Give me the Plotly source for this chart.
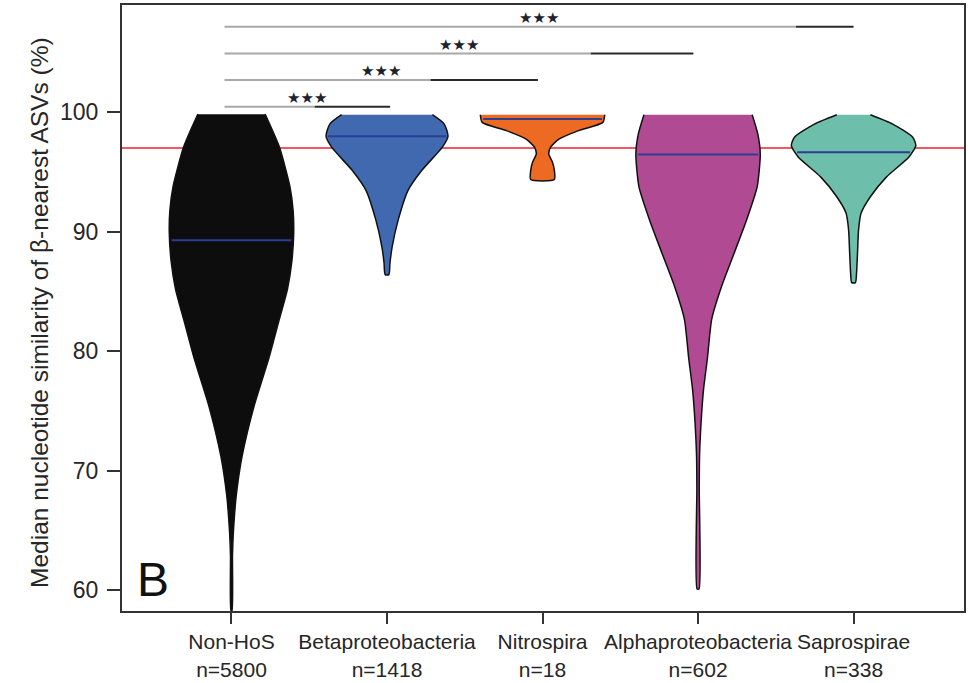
import numpy as np
import plotly.graph_objects as go

groups = ["Non-HoS", "Betaproteobacteria", "Nitrospira", "Alphaproteobacteria", "Saprospirae"]
counts = [5800, 1418, 18, 602, 338]
medians = [89.27, 97.98, 99.42, 96.46, 96.65]
fills = ["#0d0d0d", "#4169b0", "#ec6a22", "#b04a92", "#6dbfab"]

# violin outlines: similarity level -> relative density
nonhos_y = [99.83, 97.07, 93.75, 91.8, 89.9, 87.5, 85.2, 82.5, 79.4, 75.35, 71.2, 67.9, 64.8, 62.9, 58.3]
nonhos_d = [0.54, 0.77, 0.94, 0.99, 1.0, 0.97, 0.90, 0.76, 0.60, 0.36, 0.17, 0.076, 0.03, 0.016, 0.008]
beta_y = [99.78, 99.0, 97.98, 97.07, 95.13, 93.47, 90.98, 88.77, 87.4, 86.4]
beta_d = [0.73, 0.92, 0.98, 0.89, 0.56, 0.34, 0.18, 0.084, 0.048, 0.03]
nitro_y = [99.78, 99.14, 98.45, 97.76, 97.07, 96.5, 95.8, 95.13, 94.36]
nitro_d = [1.0, 0.97, 0.58, 0.27, 0.13, 0.10, 0.16, 0.19, 0.19]
alpha_y = [99.78, 98.17, 96.46, 93.75, 90.98, 88.2, 85.45, 82.68, 79.4, 76.74, 73.97, 71.2, 68.5, 60.1]
alpha_d = [0.87, 0.96, 1.0, 0.95, 0.78, 0.58, 0.38, 0.22, 0.15, 0.087, 0.048, 0.024, 0.019, 0.016]
sapro_y = [99.78, 99.0, 97.9, 97.2, 96.24, 94.58, 92.92, 91.54, 90.15, 88.2, 86.56, 85.73]
sapro_d = [0.27, 0.63, 0.95, 1.0, 0.89, 0.53, 0.27, 0.12, 0.08, 0.063, 0.048, 0.03]

threshold = 97

# significance brackets (all against Non-HoS)
bracket_y = [100.45, 102.68, 104.9, 107.15]
bracket_x0 = [0.955, 0.955, 0.955, 0.955]
bracket_x1 = [2.02, 2.97, 3.97, 5.0]
bracket_dark = [1.535, 2.28, 3.31, 4.63]
bracket_text = ["***", "***", "***", "***"]

profiles = [(nonhos_y, nonhos_d), (beta_y, beta_d), (nitro_y, nitro_d),
            (alpha_y, alpha_d), (sapro_y, sapro_d)]
half = 0.4
font = "Liberation Sans, Arial, sans-serif"

fig = go.Figure()

fig.add_hline(y=threshold, line=dict(color="#e8232b", width=1.5), layer="below")

for i, (ys, ds) in enumerate(profiles):
    c = i + 1
    ys = np.array(ys)
    ds = np.array(ds)
    xs = np.concatenate([c - half * ds, (c + half * ds)[::-1]])
    yy = np.concatenate([ys, ys[::-1]])
    fig.add_trace(go.Scatter(
        x=xs, y=yy, mode="lines", fill="toself", fillcolor=fills[i],
        line=dict(color="#111111", width=1.5, shape="spline", smoothing=0.6),
        hoverinfo="skip", showlegend=False,
    ))
    w = half * np.interp(medians[i], ys[::-1], ds[::-1]) * 0.97
    fig.add_trace(go.Scatter(
        x=[c - w, c + w], y=[medians[i], medians[i]], mode="lines",
        line=dict(color="#2d3e92", width=2), hoverinfo="skip", showlegend=False,
    ))

for k in range(len(bracket_y)):
    fig.add_trace(go.Scatter(
        x=[bracket_x0[k], bracket_dark[k]], y=[bracket_y[k]] * 2, mode="lines",
        line=dict(color="#a8a8a8", width=2), hoverinfo="skip", showlegend=False,
    ))
    fig.add_trace(go.Scatter(
        x=[bracket_dark[k], bracket_x1[k]], y=[bracket_y[k]] * 2, mode="lines",
        line=dict(color="#2a2a2a", width=2), hoverinfo="skip", showlegend=False,
    ))
    fig.add_annotation(
        x=(bracket_x0[k] + bracket_x1[k]) / 2, y=bracket_y[k], xref="x", yref="y",
        text=bracket_text[k].replace("*", "\u2605"), showarrow=False, yanchor="bottom",
        font=dict(family="DejaVu Sans", size=15, color="#1e2230"), yshift=-2,
    )

fig.add_annotation(
    x=0.0155, y=0.052, xref="paper", yref="paper", text="B", showarrow=False,
    xanchor="left", yanchor="middle", font=dict(family=font, size=48, color="#111111"),
)
fig.add_annotation(
    x=-0.098, y=0.4926, xref="paper", yref="paper", textangle=-90, showarrow=False,
    text="Median nucleotide similarity of \u03b2-nearest ASVs (%)",
    xanchor="center", yanchor="middle", font=dict(family=font, size=24.5, color="#262626"),
)

fig.update_layout(
    width=968, height=683,
    margin=dict(l=122, r=2, t=5, b=67),
    paper_bgcolor="white", plot_bgcolor="white",
    font=dict(family=font, color="#262626"),
    xaxis=dict(
        range=[0.296, 5.71], tickmode="array", tickvals=[1, 2, 3, 4, 5],
        ticktext=[f"{g}<br>n={n}" for g, n in zip(groups, counts)],
        tickfont=dict(size=21), ticks="outside", ticklen=11, tickwidth=2, tickcolor="#333333",
        showline=True, linecolor="#333333", linewidth=2, mirror=True,
        showgrid=False, zeroline=False,
    ),
    yaxis=dict(
        range=[58.26, 108.96], tickvals=[60, 70, 80, 90, 100],
        tickfont=dict(size=23), ticks="outside", ticklen=13, tickwidth=2, tickcolor="#333333",
        ticklabelstandoff=4,
        showline=True, linecolor="#333333", linewidth=2, mirror=True,
        showgrid=False, zeroline=False,
    ),
)

# the page body has a default 8px margin; drop it so the figure sits at the corner
fig.write_html("out.html", config={"displayModeBar": False},
               post_script="document.body.style.margin='0px';")
